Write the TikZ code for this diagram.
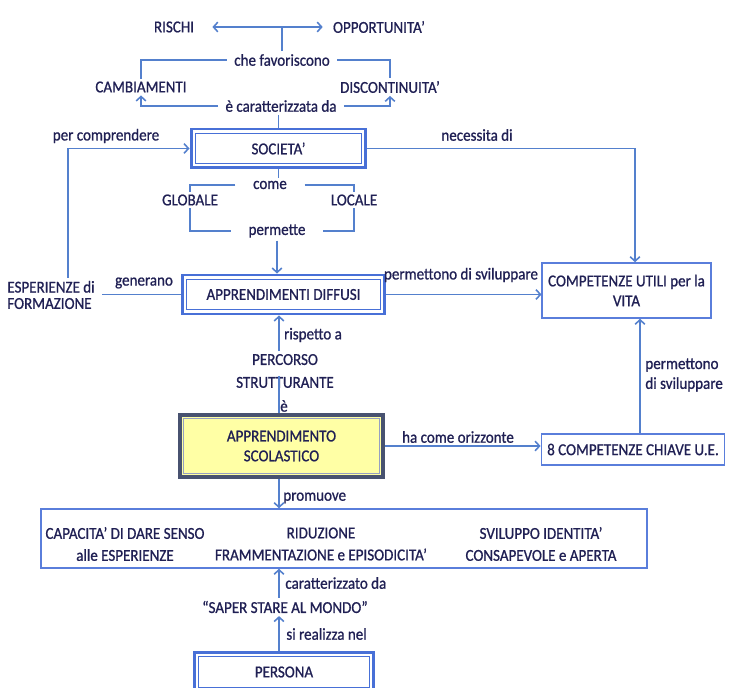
\documentclass[tikz,border=0pt]{standalone}
\usepackage{fontspec}
\setmainfont[FakeStretch=0.9, FakeBold=0.9]{Carlito}
\usetikzlibrary{arrows.meta}
\definecolor{linec}{RGB}{84,128,205}
\definecolor{boxblue}{RGB}{72,112,215}
\definecolor{textc}{RGB}{32,32,84}
\definecolor{apsborder}{RGB}{72,82,112}
\definecolor{apsinner}{RGB}{150,160,195}
\definecolor{apsfill}{RGB}{255,255,165}
\begin{document}
\begin{tikzpicture}[x=0.02cm,y=-0.02cm,
  every node/.style={font=\fontsize{9.5}{11.3}\selectfont, text=textc},
  lbl/.style={inner xsep=4pt, inner ysep=1.5pt},
  dbl/.style={draw=boxblue, line width=1.7pt, fill=white,
    path picture={\draw[boxblue, line width=0.8pt]
      ([shift={(2.5pt,-2.5pt)}]path picture bounding box.north west) rectangle
      ([shift={(-2.5pt,2.5pt)}]path picture bounding box.south east);}},
  apsbox/.style={draw=apsborder, line width=2.3pt, fill=apsfill, align=center,
    path picture={\draw[apsinner, line width=0.6pt]
      ([shift={(2.2pt,-2.2pt)}]path picture bounding box.north west) rectangle
      ([shift={(-2.2pt,2.2pt)}]path picture bounding box.south east);}},
  sbox/.style={draw=boxblue!90, line width=0.9pt, fill=white},
  conn/.style={draw=linec, line width=0.9pt},
  arr/.style={conn, -{Straight Barb[length=2.5pt,width=5.5pt]}},
]
\useasboundingbox (0,0) rectangle (729,688);

% top: risks and opportunities
\node[lbl] (risk) at (174,27) {RISCHI};
\node[lbl] (opp) at (379,27) {OPPORTUNITA'};
\node[lbl] (favor) at (282,60) {che favoriscono};
\node[lbl] (camb) at (141,87) {CAMBIAMENTI};
\node[lbl] (disc) at (390,87) {DISCONTINUITA'};
\node[lbl] (carat) at (281,106) {è caratterizzata da};

% society
\node[dbl, minimum width=3.5cm, minimum height=0.78cm] (soc) at (278.5,148.5) {SOCIETA'};
\node[lbl] (percomp) at (106,136) {per comprendere};
\node[lbl] (nec) at (477,135) {necessita di};
\node[lbl, inner xsep=10pt] (come) at (270,185) {come};
\node[lbl] (glob) at (190,200) {GLOBALE};
\node[lbl] (loc) at (354,200) {LOCALE};
\node[lbl, inner xsep=10pt] (perm) at (277,231) {permette};

% diffuse learning
\node[dbl, minimum width=4.06cm, minimum height=0.78cm] (apd) at (283.5,294.5) {APPRENDIMENTI DIFFUSI};
\node[lbl, anchor=west, align=left, font=\fontsize{9.5}{9.3}\selectfont] (esp) at (0,295) {ESPERIENZE di\\FORMAZIONE};
\node[lbl] (gen) at (144,283) {generano};
\node[lbl] (psv) at (461,275) {permettono di sviluppare};
\node[sbox, minimum width=3.14cm, minimum height=1.1cm, align=center] (cuv) at (626.5,290.5) {COMPETENZE UTILI per la\\VITA};
\node[lbl] (risp) at (313,335) {rispetto a};
\node[lbl, align=center, font=\fontsize{9.5}{13}\selectfont] (perc) at (285,371) {PERCORSO\\STRUTTURANTE};
\node[lbl] (eacc) at (284,406) {è};
\coordinate (col) at (279,376);

% school learning
\node[apsbox, minimum width=4.06cm, minimum height=1.24cm] (aps) at (281.5,446) {APPRENDIMENTO\\SCOLASTICO};
\node[lbl] (hco) at (458,437) {ha come orizzonte};
\node[sbox, minimum width=3.64cm, minimum height=0.62cm] (c8) at (633,449.5) {8 COMPETENZE CHIAVE U.E.};
\node[lbl, anchor=west, align=left] (psv2) at (638,375) {permettono\\di sviluppare};
\node[lbl, anchor=west] (prom) at (276,498) {promuove};

% outcomes
\node[sbox, minimum width=12.12cm, minimum height=1.18cm] (big) at (344,538.5) {};
\node[lbl, align=center, font=\fontsize{9.5}{12.5}\selectfont] (capa) at (125,544) {CAPACITA' DI DARE SENSO\\alle ESPERIENZE};
\node[lbl, align=center, font=\fontsize{9.5}{12.5}\selectfont] (ridu) at (321,544) {RIDUZIONE\\FRAMMENTAZIONE e EPISODICITA'};
\node[lbl, align=center, font=\fontsize{9.5}{12.5}\selectfont] (svil) at (541,544) {SVILUPPO IDENTITA'\\CONSAPEVOLE e APERTA};
\node[lbl, anchor=west] (carz) at (278,583) {caratterizzato da};
\node[lbl] (saper) at (285,607) {“SAPER STARE AL MONDO”};
\node[lbl, anchor=west] (sireal) at (279,634) {si realizza nel};
\node[dbl, minimum width=3.6cm, minimum height=0.8cm] (pers) at (284,672) {PERSONA};

% connectors: top
\draw[conn, {Straight Barb[length=2.5pt,width=5.5pt]}-{Straight Barb[length=2.5pt,width=5.5pt]}, shorten <=0.22cm, shorten >=0.06cm] (risk.east) -- (opp.west);
\draw[conn] (favor.north) -- (favor.north |- risk.east);
\draw[conn] (favor.west) -| (camb.north);
\draw[conn] (favor.east) -| (disc.north);
\draw[arr] (carat.west) -| (camb.south);
\draw[arr] (carat.east) -| (disc.south);
\draw[conn] (soc.north) -- (soc.north |- carat.south);

% connectors: society
\draw[arr] ([xshift=1.36cm]esp.north west) |- (soc.west);
\draw[arr] (soc.east) -| ([xshift=0.17cm]cuv.north);
\draw[conn] (soc.south) -- (soc.south |- come.north);
\draw[conn] (come.west) -| (glob.north);
\draw[conn] (come.east) -| (loc.north);
\draw[conn] (glob.south) |- (perm.west);
\draw[conn] (loc.south) |- (perm.east);
\draw[arr] (perm.south) -- (perm.south |- apd.north);

% connectors: learning
\draw[conn] (esp.east |- apd.west) -- (apd.west);
\draw[arr] (apd.east) -- (apd.east -| cuv.west);
\draw[arr] (perc.north -| col) -- (col |- apd.south);
\draw[conn] (col) -- (col |- aps.north);
\draw[arr] (aps.east) -- (aps.east -| c8.west);
\draw[arr] ([xshift=0.14cm]c8.north) -- ([xshift=0.14cm]c8.north |- cuv.south);
\draw[arr] (aps.south -| col) -- (big.north -| col);
\draw[arr] (saper.north -| col) -- (big.south -| col);
\draw[arr] (pers.north -| col) -- (saper.south -| col);
\end{tikzpicture}
\end{document}
